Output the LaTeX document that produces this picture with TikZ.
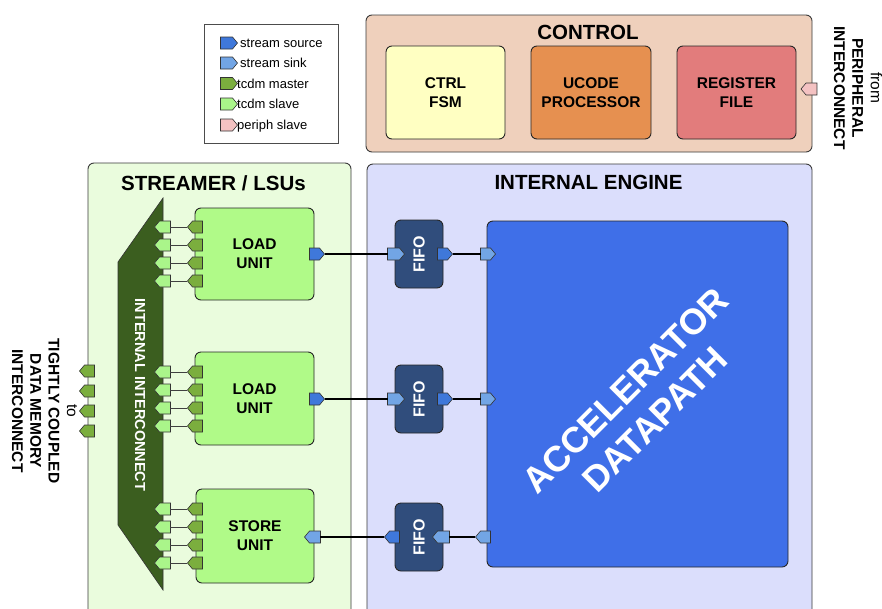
\documentclass[tikz,border=0pt]{standalone}
\usepackage{fontspec}
\setmainfont{Liberation Sans}
\usetikzlibrary{shapes.symbols}
\definecolor{ctrlbg}{HTML}{EFD0BC}
\definecolor{fsmc}{HTML}{FFFFC2}
\definecolor{ucodec}{HTML}{E69050}
\definecolor{regc}{HTML}{E27C7C}
\definecolor{strbg}{HTML}{EAFCDD}
\definecolor{engbg}{HTML}{DBDEFC}
\definecolor{luc}{HTML}{B0FA88}
\definecolor{icc}{HTML}{3B5E1F}
\definecolor{fifoc}{HTML}{304D7C}
\definecolor{dpc}{HTML}{3F6FE8}
\definecolor{tmaster}{HTML}{7BAE3E}
\definecolor{tslave}{HTML}{AAF58A}
\definecolor{srcc}{HTML}{3F78DA}
\definecolor{snkc}{HTML}{72A5E5}
\definecolor{periphc}{HTML}{F4C2C2}
\definecolor{edge}{HTML}{3A3A3A}
\begin{document}
\begin{tikzpicture}[x=1pt,y=1pt,
  outerbox/.style={draw=edge, line width=0.9pt, rounded corners=6pt, inner sep=0pt},
  innerbox/.style={draw=black!85, line width=0.9pt, rounded corners=6pt, inner sep=0pt, align=center,
     font=\fontsize{15.5}{19}\selectfont\bfseries},
  title/.style={font=\fontsize{20.5}{24}\selectfont\bfseries, inner sep=0pt},
  port/.style={signal, draw=black!80, line width=0.6pt, inner sep=0pt, outer sep=0pt,
     minimum height=12pt, minimum width=16pt, signal pointer angle=100},
  pr/.style={port, signal to=east},
  pl/.style={port, signal to=west},
  stream/.style={line width=1.5pt, black},
  tcdm/.style={line width=0.8pt, black!75},
  legtext/.style={font=\fontsize{13}{15}\selectfont, inner sep=0pt, anchor=base west},
  sidetext/.style={font=\fontsize{15.5}{18.3}\selectfont\bfseries, align=center, inner sep=0pt, rotate=-90}
]
\clip (0,0) rectangle (882,-608);
\fill[white] (0,0) rectangle (882,-608);

% legend
\node[draw=black!70, line width=0.8pt, minimum width=134pt, minimum height=119pt, inner sep=0pt] (legend) at (271,-83.5) {};
\foreach \c/\t/\y/\tx [count=\i] in {srcc/stream source/43/240, snkc/stream sink/63/240, tmaster/tcdm master/83.5/237, tslave/tcdm slave/104/237, periphc/periph slave/125/237}{
  \node[pr, fill=\c, minimum width=17pt] (lg\i) at (226.5,-\y) {};
  \node[legtext] (lt\i) at (\tx,-\y-4.7) {\t};
}

% control
\node[outerbox, fill=ctrlbg, minimum width=446pt, minimum height=137pt] (control) at (589,-83.5) {};
\node[title] (ctitle) at (588,-32) {CONTROL};
\node[innerbox, fill=fsmc, minimum width=119pt, minimum height=93pt] (fsm) at (445.5,-92.5) {CTRL\\FSM};
\node[innerbox, fill=ucodec, minimum width=120pt, minimum height=93pt] (ucode) at (591,-92.5) {UCODE\\PROCESSOR};
\node[innerbox, fill=regc, minimum width=119pt, minimum height=93pt] (reg) at (736.5,-92.5) {REGISTER\\FILE};
\node[pl, fill=periphc] (pp) at (811.5,-89) {};
\node[sidetext] (ptext) at (858,-88) {{\mdseries from}\\PERIPHERAL\\INTERCONNECT};

% streamer
\node[outerbox, fill=strbg, minimum width=263pt, minimum height=457pt] (streamer) at (219.5,-391.5) {};
\node[title] (stitle) at (213.5,-183) {STREAMER / LSUs};
% engine
\node[outerbox, fill=engbg, minimum width=445pt, minimum height=456pt] (engine) at (589.5,-392) {};
\node[title] (etitle) at (588.5,-182) {INTERNAL ENGINE};

% interconnect
\filldraw[fill=icc, draw=black!80, line width=0.6pt] (163,-198) -- (118,-262) -- (118,-525) -- (163,-590) -- cycle;
\node[font=\fontsize{14.5}{17}\selectfont\bfseries, text=white, rotate=-90, inner sep=0pt] (ictext) at (140,-395) {INTERNAL INTERCONNECT};

% units
\node[innerbox, fill=luc, minimum width=119pt, minimum height=92pt] (lu1) at (254.5,-254) {LOAD\\UNIT};
\node[innerbox, fill=luc, minimum width=119pt, minimum height=93pt] (lu2) at (254.5,-398.5) {LOAD\\UNIT};
\node[innerbox, fill=luc, minimum width=118pt, minimum height=94pt] (su) at (255,-536) {STORE\\UNIT};

% fifos
\foreach \n/\y in {f1/254, f2/399, f3/537}{
  \node[innerbox, fill=fifoc, minimum width=48pt, minimum height=68pt] (\n) at (419,-\y) {};
  \node[font=\fontsize{16}{19}\selectfont\bfseries, text=white, rotate=90, inner sep=0pt] (\n t) at (419,-\y) {FIFO};
}

% datapath
\node[innerbox, fill=dpc, minimum width=301pt, minimum height=346pt] (dp) at (637.5,-394) {};
\node[font=\fontsize{36}{42}\selectfont\bfseries, text=white, rotate=45, align=center, inner sep=0pt] (dptext) at (640,-405) {ACCELERATOR\\DATAPATH};

% external tcdm ports
\foreach \y [count=\i] in {371,391,411,431}{
  \node[pl, fill=tmaster, minimum width=15pt] (ext\i) at (89.5,-\y) {};
}
\node[sidetext] (ltext) at (44.5,-411) {{\mdseries to}\\TIGHTLY COUPLED\\DATA MEMORY\\INTERCONNECT};

% internal tcdm ports
\foreach \y [count=\i] in {227,245,263,281,372,390,408,426,509,527,545,563}{
  \node[pl, fill=tslave, minimum width=16pt] (ic\i) at (165,-\y) {};
  \node[pl, fill=tmaster, minimum width=15pt] (lp\i) at (197.5,-\y) {};
  \draw[tcdm] (ic\i.east) -- (lp\i.west);
}

% stream rows 1 and 2
\foreach \r/\y in {1/254, 2/399}{
  \node[pr, fill=srcc, minimum width=15pt] (luo\r) at (314.5,-\y) {};
  \node[pr, fill=snkc, minimum width=17pt] (fi\r) at (393.5,-\y) {};
  \node[pr, fill=srcc, minimum width=15pt] (fo\r) at (442.5,-\y) {};
  \node[pr, fill=snkc, minimum width=15pt] (dpi\r) at (485.5,-\y) {};
  \draw[stream] (luo\r.east) -- (fi\r.west);
  \draw[stream] (fo\r.east) -- (dpi\r.west);
}
% stream row 3
\node[pl, fill=snkc, minimum width=15pt] (dpo3) at (485.5,-537) {};
\node[pl, fill=snkc, minimum width=17pt] (fi3) at (443.5,-537) {};
\node[pl, fill=srcc, minimum width=15pt] (fo3) at (394.5,-537) {};
\node[pl, fill=snkc, minimum width=16pt] (sui) at (315,-537) {};
\draw[stream] (dpo3.west) -- (fi3.east);
\draw[stream] (fo3.west) -- (sui.east);
\end{tikzpicture}
\end{document}
